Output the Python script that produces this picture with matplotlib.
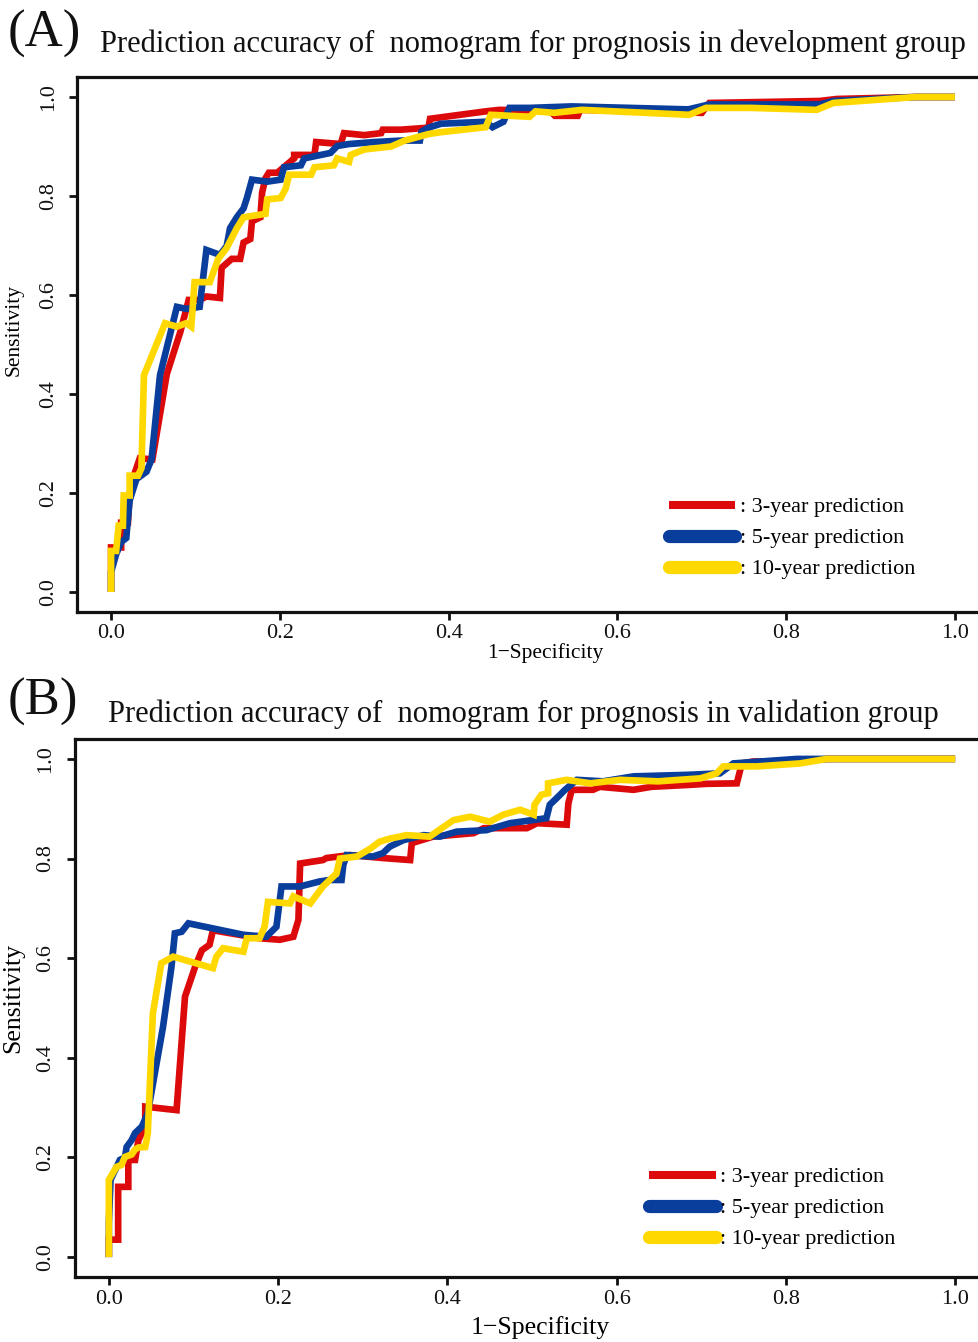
import matplotlib
matplotlib.use("Agg")
import matplotlib.pyplot as plt
from matplotlib.lines import Line2D

plt.rcParams['font.family'] = ['Liberation Serif', 'DejaVu Serif']

# ---- data (1-specificity, sensitivity) ----
# (A) development group
dev_3y_fpr = [0, 0, 0.012, 0.012, 0.02, 0.022, 0.028, 0.034, 0.049, 0.066, 0.082, 0.092, 0.105, 0.113,
              0.129, 0.131, 0.143, 0.153, 0.157, 0.165, 0.167, 0.177, 0.179, 0.183, 0.187, 0.197, 0.217,
              0.217, 0.241, 0.243, 0.272, 0.276, 0.300, 0.320, 0.322, 0.344, 0.376, 0.378, 0.444, 0.460,
              0.520, 0.526, 0.553, 0.556, 0.700, 0.709, 0.840, 0.860, 0.954, 1.0]
dev_3y_tpr = [0, 0.09, 0.09, 0.14, 0.14, 0.20, 0.24, 0.27, 0.268, 0.44, 0.525, 0.59, 0.59, 0.597,
              0.594, 0.655, 0.673, 0.673, 0.706, 0.713, 0.749, 0.757, 0.807, 0.836, 0.847, 0.847, 0.876,
              0.883, 0.883, 0.909, 0.905, 0.927, 0.923, 0.927, 0.934, 0.934, 0.938, 0.956, 0.971, 0.974,
              0.972, 0.962, 0.962, 0.974, 0.968, 0.988, 0.992, 0.996, 1.0, 1.0]

dev_5y_fpr = [0, 0, 0.006, 0.012, 0.018, 0.022, 0.03, 0.042, 0.048, 0.058, 0.078, 0.089, 0.105, 0.113,
              0.129, 0.137, 0.141, 0.149, 0.157, 0.161, 0.167, 0.185, 0.201, 0.205, 0.225, 0.229, 0.26,
              0.268, 0.282, 0.312, 0.344, 0.366, 0.368, 0.376, 0.391, 0.444, 0.452, 0.465, 0.472, 0.496,
              0.546, 0.684, 0.709, 0.84, 0.856, 0.954, 1.0]
dev_5y_tpr = [0, 0.04, 0.076, 0.101, 0.109, 0.185, 0.228, 0.243, 0.268, 0.438, 0.576, 0.572, 0.576, 0.691,
              0.681, 0.699, 0.735, 0.757, 0.775, 0.796, 0.833, 0.829, 0.833, 0.858, 0.862, 0.876, 0.887,
              0.901, 0.905, 0.909, 0.912, 0.912, 0.93, 0.938, 0.946, 0.95, 0.939, 0.95, 0.978, 0.978,
              0.981, 0.975, 0.985, 0.985, 0.992, 1.0, 1.0]

dev_10y_fpr = [0, 0, 0.006, 0.009, 0.014, 0.015, 0.022, 0.022, 0.032, 0.036, 0.039, 0.064, 0.078, 0.089,
               0.095, 0.099, 0.117, 0.127, 0.137, 0.149, 0.157, 0.183, 0.185, 0.201, 0.207, 0.211, 0.237,
               0.241, 0.264, 0.268, 0.282, 0.284, 0.300, 0.332, 0.348, 0.376, 0.391, 0.444, 0.45, 0.496,
               0.503, 0.525, 0.558, 0.685, 0.705, 0.758, 0.836, 0.856, 0.954, 1.0]
dev_10y_tpr = [0, 0.083, 0.083, 0.134, 0.134, 0.195, 0.195, 0.235, 0.235, 0.25, 0.438, 0.543, 0.536, 0.543,
               0.536, 0.626, 0.626, 0.673, 0.695, 0.735, 0.757, 0.764, 0.793, 0.796, 0.815, 0.843, 0.843,
               0.858, 0.862, 0.876, 0.869, 0.883, 0.894, 0.9, 0.912, 0.925, 0.929, 0.939, 0.964, 0.96,
               0.971, 0.968, 0.974, 0.964, 0.978, 0.978, 0.974, 0.988, 1.0, 1.0]

# (B) validation group
val_3y_fpr = [0, 0, 0.011, 0.011, 0.023, 0.023, 0.031, 0.035, 0.043, 0.043, 0.08, 0.09, 0.102, 0.11,
              0.119, 0.123, 0.178, 0.202, 0.218, 0.224, 0.226, 0.253, 0.257, 0.285, 0.324, 0.356, 0.358,
              0.383, 0.431, 0.443, 0.474, 0.494, 0.506, 0.541, 0.543, 0.547, 0.572, 0.58, 0.62, 0.641,
              0.687, 0.706, 0.742, 0.748, 0.762, 0.80, 0.85, 1.0]
val_3y_tpr = [0, 0.035, 0.035, 0.141, 0.141, 0.195, 0.195, 0.235, 0.262, 0.302, 0.295, 0.523, 0.583, 0.616,
              0.627, 0.656, 0.64, 0.637, 0.643, 0.677, 0.79, 0.797, 0.801, 0.807, 0.801, 0.797, 0.831,
              0.844, 0.851, 0.861, 0.861, 0.861, 0.871, 0.868, 0.911, 0.938, 0.938, 0.944, 0.938, 0.944,
              0.948, 0.95, 0.951, 0.991, 0.995, 0.995, 1.0, 1.0]

val_5y_fpr = [0, 0, 0.002, 0.013, 0.019, 0.021, 0.027, 0.031, 0.039, 0.046, 0.064, 0.074, 0.078, 0.086,
              0.094, 0.159, 0.186, 0.198, 0.204, 0.226, 0.249, 0.261, 0.275, 0.277, 0.281, 0.312, 0.324,
              0.332, 0.348, 0.372, 0.391, 0.411, 0.446, 0.474, 0.517, 0.521, 0.529, 0.539, 0.553, 0.584,
              0.62, 0.683, 0.722, 0.738, 0.813, 0.86, 1.0]
val_5y_tpr = [0, 0.068, 0.155, 0.195, 0.2, 0.221, 0.235, 0.249, 0.262, 0.289, 0.462, 0.583, 0.65, 0.653,
              0.67, 0.647, 0.643, 0.663, 0.744, 0.744, 0.754, 0.757, 0.757, 0.787, 0.807, 0.804, 0.811,
              0.824, 0.837, 0.847, 0.844, 0.854, 0.857, 0.871, 0.881, 0.908, 0.921, 0.938, 0.958, 0.955,
              0.965, 0.968, 0.971, 0.991, 1.0, 1.0, 1.0]

val_10y_fpr = [0, 0, 0.009, 0.015, 0.019, 0.027, 0.031, 0.035, 0.043, 0.046, 0.052, 0.062, 0.076, 0.123,
               0.127, 0.135, 0.159, 0.163, 0.178, 0.184, 0.188, 0.214, 0.218, 0.238, 0.253, 0.269, 0.273,
               0.293, 0.309, 0.32, 0.332, 0.352, 0.379, 0.407, 0.427, 0.45, 0.466, 0.486, 0.502, 0.503,
               0.511, 0.519, 0.519, 0.541, 0.569, 0.604, 0.649, 0.699, 0.718, 0.726, 0.766, 0.817, 0.848, 1.0]
val_10y_tpr = [0, 0.155, 0.181, 0.185, 0.201, 0.206, 0.216, 0.22, 0.221, 0.248, 0.489, 0.59, 0.603, 0.58,
               0.603, 0.62, 0.613, 0.64, 0.64, 0.663, 0.713, 0.71, 0.724, 0.71, 0.744, 0.77, 0.8,
               0.804, 0.82, 0.834, 0.84, 0.847, 0.844, 0.877, 0.884, 0.874, 0.888, 0.898, 0.888, 0.908,
               0.928, 0.931, 0.951, 0.958, 0.951, 0.958, 0.955, 0.961, 0.971, 0.985, 0.985, 0.991, 1.0, 1.0]

series_labels = [": 3-year prediction", ": 5-year prediction", ": 10-year prediction"]
colors = ["#DC0A0A", "#0A3E9C", "#FFD800"]
ticks = [0.0, 0.2, 0.4, 0.6, 0.8, 1.0]
tick_labels = ["0.0", "0.2", "0.4", "0.6", "0.8", "1.0"]

W, H = 979, 1342
fig = plt.figure(figsize=(W / 100, H / 100), dpi=100)


def draw_panel(rect, curves, xlab_size, xlab_pos, ylab_pos, leg_anchor):
    ax = fig.add_axes(rect)
    for (fpr, tpr), c in zip(curves, colors):
        ax.plot(fpr, tpr, color=c, lw=4.8, solid_joinstyle='miter', solid_capstyle='butt')
    ax.set_xlim(-0.04, 1.04)
    ax.set_ylim(-0.04, 1.04)
    ax.set_xticks(ticks)
    ax.set_xticklabels(tick_labels)
    ax.set_yticks(ticks)
    ax.set_yticklabels(tick_labels, rotation=90, va='center')
    ax.tick_params(direction='out', length=6, width=2, labelsize=16, colors='#111111')
    ax.tick_params(axis='x', pad=3)
    ax.tick_params(axis='y', pad=8)
    for s in ax.spines.values():
        s.set_linewidth(2.3)
        s.set_color('#111111')
    ax.set_xlabel("1\u2212Specificity", fontsize=xlab_size)
    ax.set_ylabel("Sensitivity", fontsize=xlab_size)
    ax.xaxis.set_label_coords(*xlab_pos)
    ax.yaxis.set_label_coords(*ylab_pos)

    handles = [Line2D([], [], color=colors[0], lw=5.8, solid_capstyle='butt'),
               Line2D([], [], color=colors[1], lw=9.5, solid_capstyle='round'),
               Line2D([], [], color=colors[2], lw=9.5, solid_capstyle='round')]
    ax.legend(handles, series_labels, loc='center left', bbox_to_anchor=leg_anchor,
              frameon=False, fontsize=16, handlelength=3.0, handletextpad=0.2,
              labelspacing=0.47, borderpad=0, borderaxespad=0)
    return ax


draw_panel([77.3 / W, (H - 611.8) / H, 911.4 / W, 534.6 / H],
           [(dev_3y_fpr, dev_3y_tpr), (dev_5y_fpr, dev_5y_tpr), (dev_10y_fpr, dev_10y_tpr)],
           15.5, (0.514, -0.058), (-0.059, 0.527), (0.649, 0.138))
draw_panel([75 / W, (H - 1277) / H, 914 / W, 538 / H],
           [(val_3y_fpr, val_3y_tpr), (val_5y_fpr, val_5y_tpr), (val_10y_fpr, val_10y_tpr)],
           18.5, (0.509, -0.072), (-0.055, 0.518), (0.628, 0.128))

fig.text(8 / W, 1 - 47 / H, "(A)", fontsize=38, va='baseline', ha='left', color='#111111')
fig.text(100 / W, 1 - 52 / H, "Prediction accuracy of  nomogram for prognosis in development group",
         fontsize=22, va='baseline', ha='left', color='#111111')
fig.text(8 / W, 1 - 715 / H, "(B)", fontsize=38, va='baseline', ha='left', color='#111111')
fig.text(108 / W, 1 - 722 / H, "Prediction accuracy of  nomogram for prognosis in validation group",
         fontsize=22, va='baseline', ha='left', color='#111111')

fig.savefig("out.png", dpi=100)
